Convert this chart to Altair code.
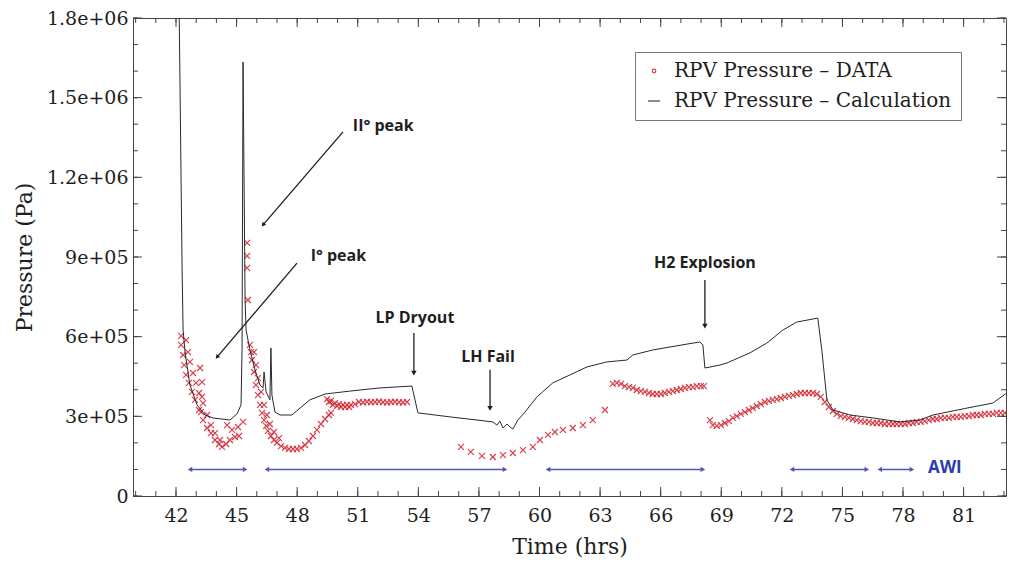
import altair as alt
import pandas as pd

# ---------------------------------------------------------------- axes
X_DOMAIN = [39.87, 83.1]
Y_DOMAIN = [0, 1.8e6]
x_major = [42, 45, 48, 51, 54, 57, 60, 63, 66, 69, 72, 75, 78, 81]
x_minor = list(range(40, 84))
y_major = [0, 3e5, 6e5, 9e5, 1.2e6, 1.5e6, 1.8e6]
y_major_labels = ["0", "3e+05", "6e+05", "9e+05", "1.2e+06", "1.5e+06", "1.8e+06"]
y_minor = [k * 1e5 for k in range(19)]

SERIES_DATA = "RPV Pressure – DATA"
SERIES_CALC = "RPV Pressure – Calculation"

# ---------------------------------------------------------------- calculation (time h, pressure Pa)
calc_time = [42.10, 42.30, 42.35, 42.45, 42.69, 43.04, 43.44, 43.83, 44.67, 45.02,
             45.22, 45.27, 45.32, 45.42, 45.47, 45.66, 45.91, 46.16, 46.31, 46.36,
             46.46, 46.65, 46.70, 46.75, 46.90, 47.15, 47.74, 48.14, 48.63, 49.38,
             50.61, 52.10, 53.68, 53.98, 55.56, 57.69, 57.89, 58.04, 58.19, 58.39,
             58.54, 58.68, 58.93, 59.28, 59.87, 60.66, 61.51, 62.35, 63.34, 64.33,
             64.62, 65.61, 67.30, 67.94, 68.09, 68.19, 68.93, 69.28, 70.42, 71.26,
             72.05, 72.74, 73.78, 73.98, 74.23, 74.53, 75.37, 76.51, 77.84, 78.83,
             79.48, 81.16, 82.45, 83.14]
calc_pressure = [2.2e6, 8.62e5, 6.25e5, 5.39e5, 4.18e5, 3.43e5, 3.05e5, 2.94e5, 2.86e5, 3.09e5,
                 3.43e5, 5.50e5, 1.634e6, 7.38e5, 6.25e5, 5.50e5, 4.75e5, 4.18e5, 4.07e5, 4.67e5,
                 3.92e5, 3.62e5, 5.57e5, 3.80e5, 3.16e5, 3.05e5, 3.05e5, 3.31e5, 3.62e5, 3.84e5,
                 3.95e5, 4.07e5, 4.14e5, 3.13e5, 2.98e5, 2.79e5, 2.67e5, 2.82e5, 2.56e5, 2.71e5,
                 2.60e5, 2.52e5, 2.86e5, 3.16e5, 3.73e5, 4.26e5, 4.56e5, 4.86e5, 5.05e5, 5.12e5,
                 5.31e5, 5.50e5, 5.72e5, 5.80e5, 5.69e5, 4.82e5, 4.93e5, 5.01e5, 5.39e5, 5.76e5,
                 6.25e5, 6.55e5, 6.70e5, 5.50e5, 3.62e5, 3.24e5, 3.05e5, 2.94e5, 2.79e5, 2.86e5,
                 3.05e5, 3.31e5, 3.50e5, 3.88e5]

# ---------------------------------------------------------------- measured points (time h, pressure Pa)
meas_first_decay = [
    (42.25, 6.03e5), (42.25, 5.69e5), (42.35, 5.31e5), (42.40, 4.93e5), (42.50, 4.56e5),
    (42.64, 4.26e5), (42.79, 3.92e5), (42.94, 3.62e5), (43.14, 3.24e5), (43.34, 2.86e5),
    (43.54, 2.56e5), (43.73, 2.37e5), (43.93, 2.11e5), (44.13, 1.96e5), (44.28, 1.85e5),
    (44.48, 1.96e5), (44.67, 2.11e5), (44.92, 2.22e5), (45.12, 2.26e5),
    (42.50, 5.87e5), (42.59, 5.42e5), (42.69, 5.05e5), (42.84, 4.63e5), (42.99, 4.26e5),
    (43.14, 3.88e5), (43.34, 3.50e5), (43.54, 3.05e5), (43.73, 2.67e5), (43.93, 2.37e5),
    (44.18, 2.11e5),
    (43.19, 4.82e5), (43.29, 4.29e5), (43.29, 3.73e5), (43.24, 3.16e5),
    (44.53, 2.67e5), (44.77, 2.49e5), (45.07, 2.60e5), (45.32, 2.79e5),
]
meas_second_peak = [
    (45.52, 9.53e5), (45.52, 9.04e5), (45.52, 8.59e5), (45.56, 7.38e5),
    (45.66, 5.69e5), (45.71, 5.42e5), (45.76, 5.12e5), (45.86, 4.67e5), (45.96, 4.18e5),
    (46.06, 3.80e5), (46.16, 3.43e5), (46.26, 3.13e5), (46.36, 2.86e5), (46.46, 2.64e5),
    (46.55, 2.45e5), (46.70, 2.26e5), (46.85, 2.11e5), (47.00, 2.00e5), (47.20, 1.88e5),
    (47.40, 1.81e5), (47.59, 1.77e5), (47.79, 1.77e5), (47.99, 1.77e5), (48.19, 1.81e5),
    (48.39, 1.92e5), (48.58, 2.07e5), (48.78, 2.26e5), (48.98, 2.49e5), (49.18, 2.71e5),
    (49.38, 2.90e5), (49.57, 3.05e5), (49.67, 3.13e5),
    (45.86, 5.42e5), (45.96, 4.93e5), (46.06, 4.44e5), (46.21, 3.92e5), (46.36, 3.43e5),
    (46.50, 3.05e5), (46.65, 2.71e5), (46.85, 2.41e5), (47.10, 2.18e5),
]
meas_plateau = [
    (49.48, 3.65e5), (49.67, 3.58e5), (49.87, 3.50e5), (50.07, 3.46e5), (50.27, 3.43e5),
    (50.47, 3.43e5), (50.66, 3.43e5), (50.86, 3.46e5), (51.06, 3.54e5), (51.26, 3.52e5),
    (51.46, 3.55e5), (51.65, 3.53e5), (51.85, 3.54e5), (52.05, 3.56e5), (52.25, 3.53e5),
    (52.45, 3.52e5), (52.64, 3.54e5), (52.84, 3.55e5), (53.04, 3.53e5), (53.24, 3.52e5),
    (53.44, 3.54e5),
    (49.57, 3.54e5), (49.77, 3.43e5), (49.97, 3.39e5), (50.17, 3.35e5), (50.37, 3.35e5),
    (50.57, 3.35e5),
]
meas_sparse = [
    (56.11, 1.85e5), (56.60, 1.66e5), (57.15, 1.51e5), (57.69, 1.47e5), (58.19, 1.54e5),
    (58.68, 1.62e5), (59.18, 1.73e5), (59.67, 1.85e5), (60.02, 2.11e5), (60.42, 2.30e5),
    (60.76, 2.41e5), (61.16, 2.49e5), (61.65, 2.56e5), (62.15, 2.67e5), (62.64, 2.86e5),
    (63.24, 3.24e5),
]
meas_before_explosion = [
    (63.63, 4.22e5), (63.83, 4.26e5), (64.03, 4.22e5), (64.23, 4.14e5), (64.43, 4.10e5),
    (64.62, 4.07e5), (64.82, 3.99e5), (65.02, 3.95e5), (65.22, 3.92e5), (65.42, 3.88e5),
    (65.61, 3.84e5), (65.81, 3.84e5), (66.01, 3.84e5), (66.21, 3.88e5), (66.41, 3.92e5),
    (66.60, 3.95e5), (66.80, 3.99e5), (67.00, 4.03e5), (67.20, 4.07e5), (67.40, 4.10e5),
    (67.59, 4.10e5), (67.79, 4.14e5), (67.99, 4.14e5), (68.14, 4.14e5),
]
meas_after_explosion = [
    (68.44, 2.86e5), (68.58, 2.67e5), (68.78, 2.64e5), (68.98, 2.67e5), (69.18, 2.75e5),
    (69.38, 2.82e5), (69.57, 2.94e5), (69.77, 3.01e5), (69.97, 3.09e5), (70.17, 3.16e5),
    (70.37, 3.24e5), (70.56, 3.31e5), (70.76, 3.39e5), (70.96, 3.46e5), (71.16, 3.54e5),
    (71.36, 3.58e5), (71.55, 3.62e5), (71.75, 3.65e5), (71.95, 3.69e5), (72.15, 3.73e5),
    (72.35, 3.77e5), (72.55, 3.80e5), (72.74, 3.84e5), (72.94, 3.88e5), (73.14, 3.88e5),
    (73.34, 3.88e5), (73.54, 3.88e5), (73.73, 3.84e5), (73.93, 3.73e5), (74.13, 3.54e5),
    (74.33, 3.35e5), (74.53, 3.20e5), (74.72, 3.09e5), (74.92, 3.01e5), (75.12, 2.98e5),
    (75.32, 2.94e5), (75.52, 2.90e5), (75.71, 2.86e5), (75.91, 2.82e5), (76.11, 2.79e5),
    (76.31, 2.79e5), (76.51, 2.75e5), (76.70, 2.75e5), (76.90, 2.75e5), (77.10, 2.71e5),
    (77.30, 2.71e5), (77.50, 2.71e5), (77.69, 2.71e5), (77.89, 2.71e5), (78.09, 2.71e5),
    (78.29, 2.75e5), (78.49, 2.75e5), (78.68, 2.79e5), (78.88, 2.79e5), (79.08, 2.82e5),
    (79.28, 2.86e5), (79.48, 2.90e5), (79.67, 2.90e5), (79.87, 2.94e5), (80.07, 2.94e5),
    (80.27, 2.94e5), (80.47, 2.98e5), (80.66, 2.98e5), (80.86, 2.98e5), (81.06, 3.01e5),
    (81.26, 3.01e5), (81.46, 3.05e5), (81.65, 3.05e5), (81.85, 3.05e5), (82.05, 3.09e5),
    (82.25, 3.09e5), (82.45, 3.09e5), (82.64, 3.13e5), (82.84, 3.13e5), (83.04, 3.13e5),
]

# ---------------------------------------------------------------- annotations
awi_start = [42.69, 46.50, 60.42, 72.50, 76.85]
awi_end = [45.42, 58.29, 68.09, 76.21, 78.44]
awi_level = 1.0e5
awi_text, awi_text_time, awi_text_level = "AWI", 80.07, 1.05e5

event_labels = ["LP Dryout", "LH Fail", "H2 Explosion"]
event_label_time = [53.83, 57.45, 68.19]
event_label_pressure = [6.70e5, 5.23e5, 8.77e5]
event_arrow_time = [53.78, 57.55, 68.19]
event_arrow_from = [6.14e5, 4.75e5, 8.13e5]
event_arrow_to = [4.63e5, 3.30e5, 6.40e5]

peak_labels = ["II° peak", "I° peak"]
peak_label_time = [52.26, 50.04]
peak_label_pressure = [1.393e6, 9.04e5]
peak_arrow_t0 = [50.27, 47.99]
peak_arrow_p0 = [1.371e6, 8.77e5]
peak_arrow_t1 = [46.31, 44.03]
peak_arrow_p1 = [1.021e6, 5.23e5]
peak_arrow_angle = [221, 220]

# ---------------------------------------------------------------- styling
W, H = 873, 478
FRAME = "#444444"
SERIF = "DejaVu Serif"
SANS = "Open Sans"
RED = "#d42e3a"
BLUE = "#5157b4"
INK = "#1e1e1e"

xs = alt.Scale(domain=X_DOMAIN, nice=False, zero=False)
ys = alt.Scale(domain=Y_DOMAIN, nice=False, zero=False)

label_expr = "".join(
    f"datum.value == {v:.0f} ? '{lab}' : " for v, lab in zip(y_major, y_major_labels)
) + "''"

x_axis = alt.Axis(values=x_major, title="Time (hrs)", ticks=False, domain=False, grid=False,
                  labelFont=SERIF, labelFontSize=19, labelColor=INK, labelPadding=10,
                  labelFlush=False, titleFont=SERIF, titleFontSize=22, titleFontWeight="normal",
                  titleColor=INK, titlePadding=11)
y_axis = alt.Axis(values=y_major, labelExpr=label_expr, title="Pressure (Pa)", ticks=False,
                  domain=False, grid=False, labelFont=SERIF, labelFontSize=19, labelColor=INK,
                  labelPadding=5, labelFlush=False, titleFont=SERIF, titleFontSize=22,
                  titleFontWeight="normal", titleColor=INK, titlePadding=10)


def X(field):
    return alt.X(field, scale=xs, axis=x_axis)


def Y(field):
    return alt.Y(field, scale=ys, axis=y_axis)


legend = alt.Legend(
    title=None, orient="none", legendX=502, legendY=34, strokeColor="#777777",
    fillColor="white", padding=9, rowPadding=10, labelFont=SERIF, labelFontSize=20,
    labelColor=INK, labelLimit=400, labelOffset=10, symbolSize=144, symbolStrokeWidth=1.2,
    symbolType=alt.ExprRef(
        expr=f"datum.value == '{SERIES_DATA}' ? 'M-0.3,0A0.3,0.3,0,1,0,0.3,0A0.3,0.3,0,1,0,-0.3,0Z' : 'stroke'"
    ),
)
color = alt.Color("series:N", scale=alt.Scale(domain=[SERIES_DATA, SERIES_CALC], range=[RED, "#2a2a2a"]),
                  legend=legend)

# ---------------------------------------------------------------- frames
meas_rows = (meas_first_decay + meas_second_peak + meas_plateau + meas_sparse
             + meas_before_explosion + meas_after_explosion)
meas_df = pd.DataFrame(meas_rows, columns=["time", "pressure"])
meas_df["series"] = SERIES_DATA

calc_df = pd.DataFrame({"time": calc_time, "pressure": calc_pressure})
calc_df["series"] = SERIES_CALC
calc_df["order"] = range(len(calc_df))

points = alt.Chart(meas_df).mark_point(
    shape="M-1,-1L1,1M1,-1L-1,1", filled=False, size=36, strokeWidth=1.2, opacity=0.9, clip=True
).encode(x=X("time:Q"), y=Y("pressure:Q"), color=color)

line = alt.Chart(calc_df).mark_line(strokeWidth=1, clip=True).encode(
    x=X("time:Q"), y=Y("pressure:Q"), order="order:Q", color=color)

# water-injection spans (double-headed arrows)
awi_df = pd.DataFrame({"t0": awi_start, "t1": awi_end, "p": [awi_level] * len(awi_start)})
awi_rule = alt.Chart(awi_df).mark_rule(color=BLUE, strokeWidth=1.4).encode(
    x=X("t0:Q"), x2="t1:Q", y=Y("p:Q"))
awi_left = alt.Chart(awi_df).mark_point(shape="triangle-left", filled=True, size=28, color=BLUE, opacity=1).encode(
    x=X("t0:Q"), y=Y("p:Q"))
awi_right = alt.Chart(awi_df).mark_point(shape="triangle-right", filled=True, size=28, color=BLUE, opacity=1).encode(
    x=X("t1:Q"), y=Y("p:Q"))
awi_label = alt.Chart(pd.DataFrame({"t": [awi_text_time], "p": [awi_text_level], "txt": [awi_text]})).mark_text(
    font=SANS, fontWeight="bold", fontSize=17, color="#2b3cae").encode(
    x=X("t:Q"), y=Y("p:Q"), text="txt:N")

# event markers
ev_df = pd.DataFrame({"lab": event_labels, "lt": event_label_time, "lp": event_label_pressure,
                      "at": event_arrow_time, "a0": event_arrow_from, "a1": event_arrow_to})
ev_text = alt.Chart(ev_df).mark_text(font=SANS, fontWeight="bold", fontSize=16, color=INK).encode(
    x=X("lt:Q"), y=Y("lp:Q"), text="lab:N")
ev_rule = alt.Chart(ev_df).mark_rule(color=INK, strokeWidth=1.3).encode(
    x=X("at:Q"), y=Y("a0:Q"), y2="a1:Q")
ev_head = alt.Chart(ev_df).mark_point(shape="triangle-down", filled=True, size=30, color=INK, opacity=1).encode(
    x=X("at:Q"), y=Y("a1:Q"))

pk_df = pd.DataFrame({"lab": peak_labels, "lt": peak_label_time, "lp": peak_label_pressure,
                      "t0": peak_arrow_t0, "p0": peak_arrow_p0, "t1": peak_arrow_t1,
                      "p1": peak_arrow_p1, "ang": peak_arrow_angle})
pk_text = alt.Chart(pk_df).mark_text(font=SANS, fontWeight="bold", fontSize=16, color=INK).encode(
    x=X("lt:Q"), y=Y("lp:Q"), text="lab:N")
pk_rule = alt.Chart(pk_df).mark_rule(color=INK, strokeWidth=1.3).encode(
    x=X("t0:Q"), y=Y("p0:Q"), x2="t1:Q", y2="p1:Q")
pk_head = alt.Chart(pk_df).mark_point(shape="triangle-up", filled=True, size=22, color=INK, opacity=1).encode(
    x=X("t1:Q"), y=Y("p1:Q"), angle=alt.Angle("ang:Q", scale=None))


# inward tick marks on all four sides
def x_ticks(values, length):
    df = pd.DataFrame({"v": values})
    bottom = alt.Chart(df).mark_rule(color=FRAME, strokeWidth=1).encode(
        x=X("v:Q"), y=alt.value(H), y2=alt.value(H - length))
    top = alt.Chart(df).mark_rule(color=FRAME, strokeWidth=1).encode(
        x=X("v:Q"), y=alt.value(0), y2=alt.value(length))
    return [bottom, top]


def y_ticks(values, length):
    df = pd.DataFrame({"v": values})
    left = alt.Chart(df).mark_rule(color=FRAME, strokeWidth=1).encode(
        y=Y("v:Q"), x=alt.value(0), x2=alt.value(length))
    right = alt.Chart(df).mark_rule(color=FRAME, strokeWidth=1).encode(
        y=Y("v:Q"), x=alt.value(W), x2=alt.value(W - length))
    return [left, right]


tick_layers = x_ticks(x_minor, 5) + x_ticks(x_major, 9) + y_ticks(y_minor, 5) + y_ticks(y_major, 9)

chart = alt.layer(
    points, line, *tick_layers,
    awi_rule, awi_left, awi_right, awi_label,
    ev_rule, ev_head, ev_text, pk_rule, pk_head, pk_text,
).properties(
    width=W, height=H,
    padding={"left": 133, "top": 18, "right": 3, "bottom": 70},
    autosize=alt.AutoSizeParams(type="none"),
    background="white",
).configure_view(stroke=FRAME, strokeWidth=1)

chart.save("out.html", embed_options={"renderer": "svg", "actions": False})
